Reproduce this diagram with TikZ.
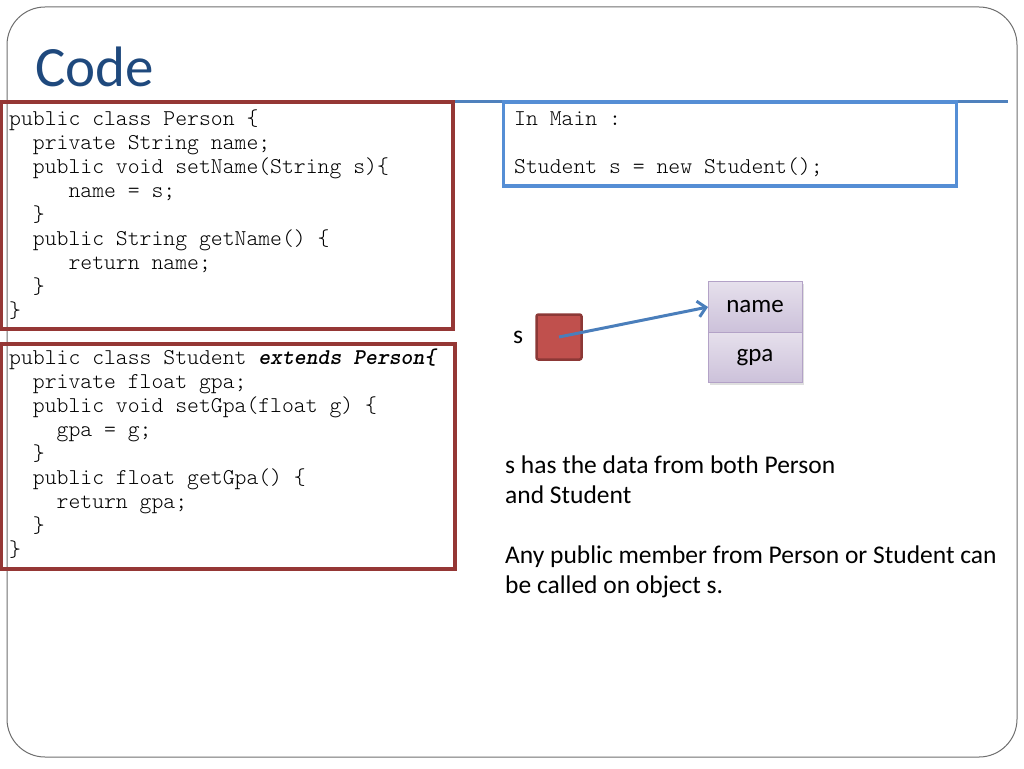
\documentclass[tikz,border=0pt]{standalone}
\usepackage{fontspec}
\setmainfont{Carlito}
\setmonofont{Latin Modern Mono Light}
\usepackage{tikz}
\usetikzlibrary{arrows.meta, positioning, shadows}

\definecolor{titleblue}{HTML}{1F497D}
\definecolor{rulerblue}{HTML}{4F81BD}
\definecolor{boxred}{HTML}{953735}
\definecolor{boxblue}{HTML}{558ED5}
\definecolor{objred}{HTML}{C0504D}
\definecolor{objedge}{HTML}{8C3836}
\definecolor{linkblue}{HTML}{4A7EBB}
\definecolor{fieldtop}{HTML}{E6E0EC}
\definecolor{fieldbot}{HTML}{CCC1DA}
\definecolor{fieldedge}{HTML}{B3A2C7}
\definecolor{framegray}{HTML}{6E6E6E}

\newcommand{\codegap}[1]{\hspace*{#1\dimexpr 0.525em\relax}}

\begin{document}
\begin{tikzpicture}[x=1pt, y=-1pt,
    codebox/.style={draw=boxred, line width=4pt, inner sep=0pt, outer sep=0pt},
    mainbox/.style={draw=boxblue, line width=3.5pt, inner sep=0pt, outer sep=0pt},
    codetext/.style={anchor=north west, inner sep=0pt, align=left,
        font=\fontsize{22.6}{24}\selectfont\ttfamily},
    bodytext/.style={inner sep=0pt, font=\fontsize{25.5}{30}\selectfont},
    field/.style={draw=fieldedge, line width=0.8pt, top color=fieldtop, bottom color=fieldbot,
        minimum width=94pt, minimum height=50.5pt, inner sep=0pt, outer sep=0pt,
        font=\fontsize{25}{28}\selectfont,
        drop shadow={shadow xshift=1.5pt, shadow yshift=-2pt, opacity=0.25}}]
            \useasboundingbox (0,0) rectangle (1024,768);
            \draw[framegray, line width=1pt, rounded corners=38pt] (7,7) rectangle (1017,757);

            \node[anchor=base west, inner sep=0pt, text=titleblue,
                font=\fontsize{57}{60}\selectfont] (title) at (35,86) {Code};
            \coordinate (rulerL) at (0,101);
            \coordinate (rulerR) at (1008,101);
            \draw[rulerblue, line width=3pt] (rulerL) -- (rulerR);

            \node[codebox, minimum width=452pt, minimum height=227pt] (person) at (227,215.5) {};
            \node[codebox, minimum width=454pt, minimum height=225pt] (student) at (228,456.5) {};
            \node[mainbox, minimum width=453pt, minimum height=84pt] (main) at (730,144) {};

            \node[codetext] (personcode) at (9,108.2) {\strut public class Person \{\\
                \codegap{2}private String name;\\
                \codegap{2}public void setName(String s)\{\\
                \codegap{5}name = s;\\
                \codegap{2}\}\\
                \codegap{2}public String getName() \{\\
                \codegap{5}return name;\\
                \codegap{2}\}\\
                \}};
            \node[codetext] (studentcode) at (9,347.2) {\strut public class Student \textbf{\textit{extends Person\{}}\\
                \codegap{2}private float gpa;\\
                \codegap{2}public void setGpa(float g) \{\\
                \codegap{4}gpa = g;\\
                \codegap{2}\}\\
                \codegap{2}public float getGpa() \{\\
                \codegap{4}return gpa;\\
                \codegap{2}\}\\
                \}};
            \node[codetext] (maincode) at (514,108.2) {\strut In Main :\\
                \\
                Student s = new Student();};

            \node[draw=objedge, fill=objred, line width=2.5pt, rounded corners=2pt,
                minimum size=45pt, inner sep=0pt] (s) at (559,337) {};
            \node[bodytext, left=12pt of s] (slabel) {s};
            \node[field] (name) at (755,307) {name};
            \node[field, below=0pt of name] (gpa) {gpa};
            \draw[linkblue, line width=3pt, -{Straight Barb[length=8pt, width=16pt]}]
                (s.center) -- (name.west);

            \node[bodytext, anchor=north west, align=left] (note) at (505,452) {\strut s has the data from both Person\\
                and Student\\[30pt]
                Any public member from Person or Student can\\
                be called on object s.};
        \end{tikzpicture}
\end{document}
